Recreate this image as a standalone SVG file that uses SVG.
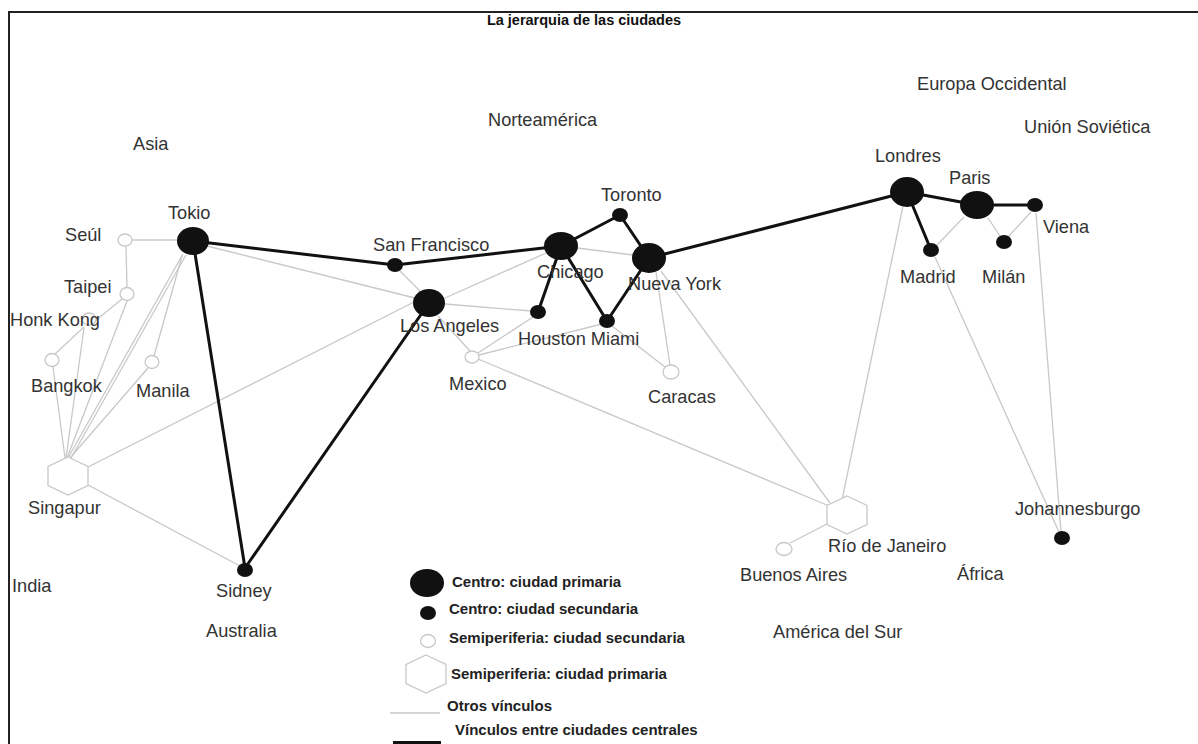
<svg xmlns="http://www.w3.org/2000/svg" width="1198" height="744" viewBox="0 0 1198 744">
<style>
.lbl{font-family:"Liberation Sans",Arial,sans-serif;font-size:18.2px;fill:#333}
.leg{font-family:"Liberation Sans",Arial,sans-serif;font-size:15px;font-weight:bold;fill:#222}
.title{font-family:"Liberation Sans",Arial,sans-serif;font-size:14.5px;font-weight:bold;fill:#111}
.thin{stroke:#c8c8c8;stroke-width:1.3;fill:none}
.thick{stroke:#111;stroke-width:3;fill:none;stroke-linecap:round}
.big{fill:#111}
.sec{fill:#111}
.semi{fill:#fff;stroke:#c8c8c8;stroke-width:1.3}
</style>
<defs>
<polygon id="hex" points="0,-19 20,-9.5 20,9.5 0,19 -20,9.5 -20,-9.5" class="semi"/>
</defs>
<rect width="1198" height="744" fill="#fff"/>
<path d="M9 744 V12 H1198" stroke="#222" stroke-width="2" fill="none"/>
<text class="title" x="584" y="25" text-anchor="middle">La jerarquia de las ciudades</text>

<g id="connectors">
<g class="thin">
<line x1="132" y1="240" x2="178" y2="240"/>
<line x1="126" y1="247" x2="127" y2="287"/>
<line x1="122" y1="299" x2="90" y2="325"/>
<line x1="84" y1="327" x2="55" y2="354"/>
<line x1="84" y1="328" x2="66" y2="458"/>
<line x1="127" y1="301" x2="67" y2="458"/>
<line x1="53" y1="367" x2="65" y2="458"/>
<line x1="183" y1="254" x2="68" y2="458"/>
<line x1="186" y1="255" x2="71" y2="458"/>
<line x1="182" y1="256" x2="154" y2="356"/>
<line x1="148" y1="368" x2="70" y2="458"/>
<line x1="88" y1="467" x2="416" y2="301"/>
<line x1="88" y1="485" x2="240" y2="566"/>
<line x1="207" y1="246" x2="415" y2="298"/>
<line x1="399" y1="270" x2="420" y2="291"/>
<line x1="445" y1="298" x2="546" y2="253"/>
<line x1="445" y1="304" x2="531" y2="311"/>
<line x1="438" y1="316" x2="470" y2="351"/>
<line x1="533" y1="317" x2="478" y2="353"/>
<line x1="602" y1="324" x2="479" y2="355"/>
<line x1="478" y1="359" x2="829" y2="506"/>
<line x1="612" y1="326" x2="665" y2="367"/>
<line x1="656" y1="272" x2="670" y2="365"/>
<line x1="661" y1="271" x2="830" y2="503"/>
<line x1="577" y1="248" x2="633" y2="255"/>
<line x1="903" y1="206" x2="842" y2="500"/>
<line x1="964" y1="217" x2="937" y2="245"/>
<line x1="988" y1="218" x2="1000" y2="236"/>
<line x1="1008" y1="237" x2="1031" y2="212"/>
<line x1="935" y1="257" x2="1059" y2="532"/>
<line x1="1036" y1="213" x2="1061" y2="532"/>
<line x1="827" y1="524" x2="790" y2="543"/>
</g>
<g class="thick">
<line x1="193" y1="241" x2="395" y2="265"/>
<line x1="395" y1="265" x2="561" y2="246"/>
<line x1="561" y1="246" x2="620" y2="215"/>
<line x1="620" y1="215" x2="649" y2="258"/>
<line x1="561" y1="246" x2="538" y2="312"/>
<line x1="561" y1="246" x2="607" y2="321"/>
<line x1="607" y1="321" x2="649" y2="258"/>
<line x1="649" y1="258" x2="907" y2="192"/>
<line x1="907" y1="192" x2="977" y2="205"/>
<line x1="977" y1="205" x2="1035" y2="205"/>
<line x1="907" y1="192" x2="931" y2="250"/>
<line x1="193" y1="241" x2="245" y2="568"/>
<line x1="429" y1="303" x2="245" y2="568"/>
</g>
</g>

<g id="tokio"><ellipse class="big" cx="193" cy="241" rx="16" ry="14"/><text class="lbl" x="168" y="219">Tokio</text></g>
<g id="seul"><ellipse class="semi" cx="125" cy="240" rx="7" ry="6"/><text class="lbl" x="65" y="241">Seúl</text></g>
<g id="taipei"><ellipse class="semi" cx="127" cy="294" rx="7" ry="6.5"/><text class="lbl" x="64" y="293">Taipei</text></g>
<g id="hongkong"><ellipse class="semi" cx="89" cy="319" rx="7" ry="6"/><text class="lbl" x="10" y="326">Honk Kong</text></g>
<g id="bangkok"><ellipse class="semi" cx="52" cy="360" rx="7" ry="6.5"/><text class="lbl" x="31" y="392">Bangkok</text></g>
<g id="manila"><ellipse class="semi" cx="152" cy="362" rx="7" ry="6.5"/><text class="lbl" x="136" y="397">Manila</text></g>
<g id="singapur"><use href="#hex" x="68" y="476"/><text class="lbl" x="28" y="514">Singapur</text></g>
<g id="sidney"><ellipse class="sec" cx="245" cy="570" rx="8" ry="7"/><text class="lbl" x="216" y="597">Sidney</text></g>
<g id="sanfrancisco"><ellipse class="sec" cx="395" cy="265" rx="8" ry="7"/><text class="lbl" x="373" y="251">San Francisco</text></g>
<g id="losangeles"><ellipse class="big" cx="429" cy="303" rx="16" ry="14"/><text class="lbl" x="400" y="332">Los Angeles</text></g>
<g id="chicago"><ellipse class="big" cx="561" cy="246" rx="17" ry="14"/><text class="lbl" x="537" y="278">Chicago</text></g>
<g id="toronto"><ellipse class="sec" cx="620" cy="215" rx="8" ry="7"/><text class="lbl" x="601" y="201">Toronto</text></g>
<g id="nuevayork"><ellipse class="big" cx="649" cy="258" rx="17" ry="15"/><text class="lbl" x="628" y="290">Nueva York</text></g>
<g id="houston"><ellipse class="sec" cx="538" cy="312" rx="8" ry="7"/></g>
<g id="miami"><ellipse class="sec" cx="607" cy="321" rx="8" ry="7"/><text class="lbl" x="518" y="345">Houston Miami</text></g>
<g id="mexico"><ellipse class="semi" cx="472" cy="357" rx="7" ry="6"/><text class="lbl" x="449" y="390">Mexico</text></g>
<g id="caracas"><ellipse class="semi" cx="671" cy="372" rx="8" ry="7"/><text class="lbl" x="648" y="403">Caracas</text></g>
<g id="londres"><ellipse class="big" cx="907" cy="192" rx="17" ry="15"/><text class="lbl" x="875" y="162">Londres</text></g>
<g id="paris"><ellipse class="big" cx="977" cy="205" rx="17" ry="14"/><text class="lbl" x="949" y="184">Paris</text></g>
<g id="viena"><ellipse class="sec" cx="1035" cy="205" rx="8" ry="7"/><text class="lbl" x="1043" y="233">Viena</text></g>
<g id="madrid"><ellipse class="sec" cx="931" cy="250" rx="8" ry="7"/><text class="lbl" x="900" y="283">Madrid</text></g>
<g id="milan"><ellipse class="sec" cx="1004" cy="242" rx="8" ry="7"/><text class="lbl" x="982" y="283">Milán</text></g>
<g id="rio"><use href="#hex" x="847" y="515"/><text class="lbl" x="828" y="552">Río de Janeiro</text></g>
<g id="buenosaires"><ellipse class="semi" cx="784" cy="549" rx="8" ry="6.5"/><text class="lbl" x="740" y="581">Buenos Aires</text></g>
<g id="johannesburgo"><ellipse class="sec" cx="1062" cy="538" rx="8" ry="7"/><text class="lbl" x="1015" y="515">Johannesburgo</text></g>

<g id="regions">
<text class="lbl" x="917" y="90">Europa Occidental</text>
<text class="lbl" x="1024" y="133">Unión Soviética</text>
<text class="lbl" x="488" y="126">Norteamérica</text>
<text class="lbl" x="133" y="150">Asia</text>
<text class="lbl" x="12" y="592">India</text>
<text class="lbl" x="206" y="637">Australia</text>
<text class="lbl" x="773" y="638">América del Sur</text>
<text class="lbl" x="957" y="580">África</text>
</g>

<g id="legend">
<ellipse class="big" cx="427" cy="583" rx="17" ry="14"/>
<text class="leg" x="452" y="587">Centro: ciudad primaria</text>
<ellipse class="sec" cx="428" cy="613" rx="8" ry="7"/>
<text class="leg" x="449" y="614">Centro: ciudad secundaria</text>
<ellipse class="semi" cx="428" cy="641" rx="7.5" ry="6.5"/>
<text class="leg" x="449" y="643">Semiperiferia: ciudad secundaria</text>
<use href="#hex" x="426" y="674"/>
<text class="leg" x="451" y="679">Semiperiferia: ciudad primaria</text>
<line class="thin" x1="390" y1="713" x2="440" y2="713"/>
<text class="leg" x="447" y="711">Otros vínculos</text>
<line x1="393" y1="744" x2="441" y2="744" stroke="#111" stroke-width="6"/>
<text class="leg" x="455" y="735">Vínculos entre ciudades centrales</text>
</g>
</svg>
